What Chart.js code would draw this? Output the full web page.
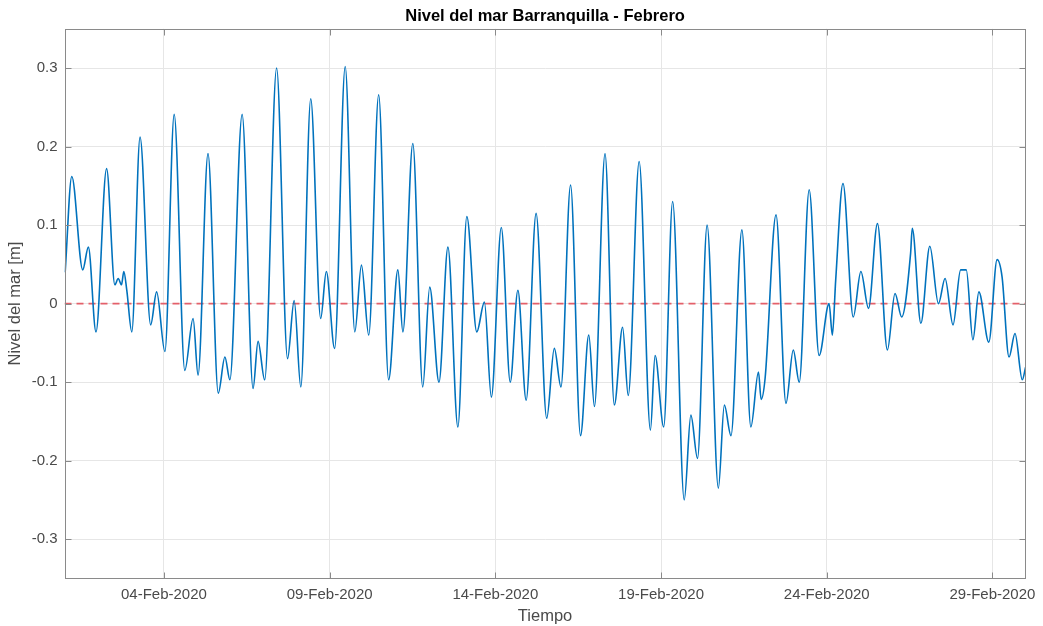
<!DOCTYPE html>
<html>
<head>
<meta charset="utf-8">
<title>Nivel del mar Barranquilla - Febrero</title>
<script src="https://cdn.jsdelivr.net/npm/chart.js@4/dist/chart.umd.min.js"></script>
<style>
  html, body { margin: 0; padding: 0; background: #fff; overflow: hidden; }
  #caja { width: 1043px; height: 626px; }
</style>
</head>
<body>
<div id="caja"><canvas id="grafica"></canvas></div>
<script>
// tiempo en dias desde 01-Feb-2020 00:00, nivel en metros
const dias = [
  0.02, 0.22, 0.55, 0.72, 0.95, 1.27, 1.52, 1.62, 1.72, 1.79,
  1.88, 2.03, 2.28, 2.60, 2.78, 3.03, 3.31, 3.63, 3.88, 4.03,
  4.33, 4.64, 4.84, 4.99, 5.36, 5.69, 5.84, 6.04, 6.40, 6.73,
  6.93, 7.13, 7.43, 7.73, 7.90, 8.15, 8.47, 8.76, 8.96, 9.18,
  9.48, 9.78, 10.06, 10.21, 10.51, 10.81, 11.02, 11.30, 11.57, 11.87,
  12.14, 12.44, 12.67, 12.88, 13.18, 13.45, 13.68, 13.93, 14.23, 14.55,
  14.78, 14.98, 15.27, 15.57, 15.82, 15.99, 16.31, 16.59, 16.84, 17.01,
  17.34, 17.68, 17.82, 18.08, 18.35, 18.70, 18.90, 19.10, 19.39, 19.73,
  19.91, 20.11, 20.44, 20.71, 20.94, 21.02, 21.14, 21.47, 21.77, 21.99,
  22.17, 22.47, 22.77, 23.07, 23.17, 23.27, 23.49, 23.80, 24.03, 24.26,
  24.53, 24.83, 25.06, 25.26, 25.53, 25.58, 25.84, 26.11, 26.37, 26.57,
  26.81, 27.04, 27.21, 27.41, 27.59, 27.89, 28.14, 28.29, 28.50, 28.68,
  28.90, 29.00
];
const nivel = [
  0.040, 0.162, 0.043, 0.072, -0.036, 0.172, 0.024, 0.032, 0.024, 0.041,
  0.017, -0.036, 0.212, -0.027, 0.015, -0.061, 0.241, -0.085, -0.019, -0.091,
  0.191, -0.114, -0.068, -0.097, 0.241, -0.108, -0.048, -0.097, 0.300, -0.070,
  0.004, -0.106, 0.261, -0.019, 0.041, -0.057, 0.302, -0.036, 0.049, -0.040,
  0.266, -0.097, 0.043, -0.036, 0.204, -0.106, 0.021, -0.100, 0.072, -0.157,
  0.111, -0.036, 0.002, -0.119, 0.097, -0.100, 0.017, -0.123, 0.115, -0.146,
  -0.057, -0.106, 0.151, -0.168, -0.040, -0.131, 0.191, -0.129, -0.030, -0.117,
  0.181, -0.161, -0.066, -0.157, 0.130, -0.250, -0.142, -0.197, 0.100, -0.235,
  -0.129, -0.168, 0.094, -0.157, -0.087, -0.122, -0.095, 0.113, -0.127, -0.059,
  -0.100, 0.145, -0.066, 0.000, -0.040, 0.030, 0.153, -0.017, 0.041, -0.006,
  0.102, -0.059, 0.013, -0.017, 0.064, 0.096, -0.025, 0.073, 0.000, 0.032,
  -0.027, 0.043, 0.043, -0.046, 0.015, -0.049, 0.056, 0.034, -0.068, -0.038,
  -0.097, -0.081
];
const ticksX = [3, 8, 13, 18, 23, 28];
const etiquetasX = ['04-Feb-2020', '09-Feb-2020', '14-Feb-2020', '19-Feb-2020', '24-Feb-2020', '29-Feb-2020'];
const ticksY = [-0.3, -0.2, -0.1, 0, 0.1, 0.2, 0.3];
const limitesX = [0, 29];
const limitesY = [-0.35, 0.35];
const nivelReferencia = 0;

Chart.defaults.font.family = "'Liberation Sans', Arial, sans-serif";
Chart.defaults.color = '#4a4a4a';

// caja de ejes y marcas hacia adentro, como en matlab
const marco = {
  id: 'marco',
  afterDraw(chart) {
    const { ctx, chartArea: a, scales: { x, y } } = chart;
    const l = Math.round(a.left) + 0.5, r = Math.round(a.right) - 0.5;
    const t = Math.round(a.top) + 0.5, b = Math.round(a.bottom) - 0.5;
    ctx.save();
    ctx.strokeStyle = '#8a8a8a';
    ctx.lineWidth = 1;
    ctx.strokeRect(l, t, r - l, b - t);
    ctx.beginPath();
    ticksX.forEach(v => {
      const px = Math.round(x.getPixelForValue(v)) + 0.5;
      ctx.moveTo(px, b); ctx.lineTo(px, b - 6);
      ctx.moveTo(px, t); ctx.lineTo(px, t + 6);
    });
    ticksY.forEach(v => {
      const py = Math.round(y.getPixelForValue(v)) + 0.5;
      ctx.moveTo(l, py); ctx.lineTo(l + 6, py);
      ctx.moveTo(r, py); ctx.lineTo(r - 6, py);
    });
    ctx.stroke();
    ctx.restore();
  }
};

new Chart(document.getElementById('grafica'), {
  type: 'line',
  data: {
    datasets: [
      {
        label: 'Nivel del mar',
        data: dias.map((d, i) => ({ x: d, y: nivel[i] })),
        borderColor: '#0072BD',
        borderWidth: 1.6,
        pointRadius: 0,
        cubicInterpolationMode: 'monotone',
        fill: false
      },
      {
        label: 'Referencia',
        data: limitesX.map(d => ({ x: d, y: nivelReferencia })),
        borderColor: '#e4606a',
        borderWidth: 1.6,
        borderDash: [7, 5],
        pointRadius: 0,
        fill: false
      }
    ]
  },
  options: {
    responsive: true,
    maintainAspectRatio: false,
    animation: false,
    layout: { padding: { left: 0, right: 16, top: 0, bottom: 0 } },
    plugins: {
      legend: { display: false },
      tooltip: { enabled: false },
      title: {
        display: true,
        fullSize: false,
        text: 'Nivel del mar Barranquilla - Febrero',
        color: '#000',
        font: { size: 16.5, weight: 'bold' },
        padding: { top: 7, bottom: 2 }
      }
    },
    scales: {
      x: {
        type: 'linear',
        min: limitesX[0],
        max: limitesX[1],
        afterBuildTicks: s => { s.ticks = ticksX.map(v => ({ value: v })); },
        afterFit: s => { s.height = 47.5; },
        ticks: {
          autoSkip: false,
          maxRotation: 0,
          padding: 7,
          font: { size: 15 },
          callback: (v, i) => etiquetasX[i]
        },
        grid: { color: '#e6e6e6', drawTicks: false },
        border: { display: false },
        title: {
          display: true,
          text: 'Tiempo',
          font: { size: 16.5 },
          padding: { top: 0, bottom: 0 }
        }
      },
      y: {
        min: limitesY[0],
        max: limitesY[1],
        afterBuildTicks: s => { s.ticks = ticksY.map(v => ({ value: v })); },
        afterFit: s => { s.width = 64.5; },
        ticks: {
          padding: 7,
          font: { size: 15 },
          callback: v => (Math.abs(v) < 1e-9 ? '0' : v.toFixed(1))
        },
        grid: { color: '#e6e6e6', drawTicks: false },
        border: { display: false },
        title: {
          display: true,
          text: 'Nivel del mar [m]',
          font: { size: 16.5 },
          padding: { top: 6, bottom: 0 }
        }
      }
    }
  },
  plugins: [marco]
});
</script>
</body>
</html>
